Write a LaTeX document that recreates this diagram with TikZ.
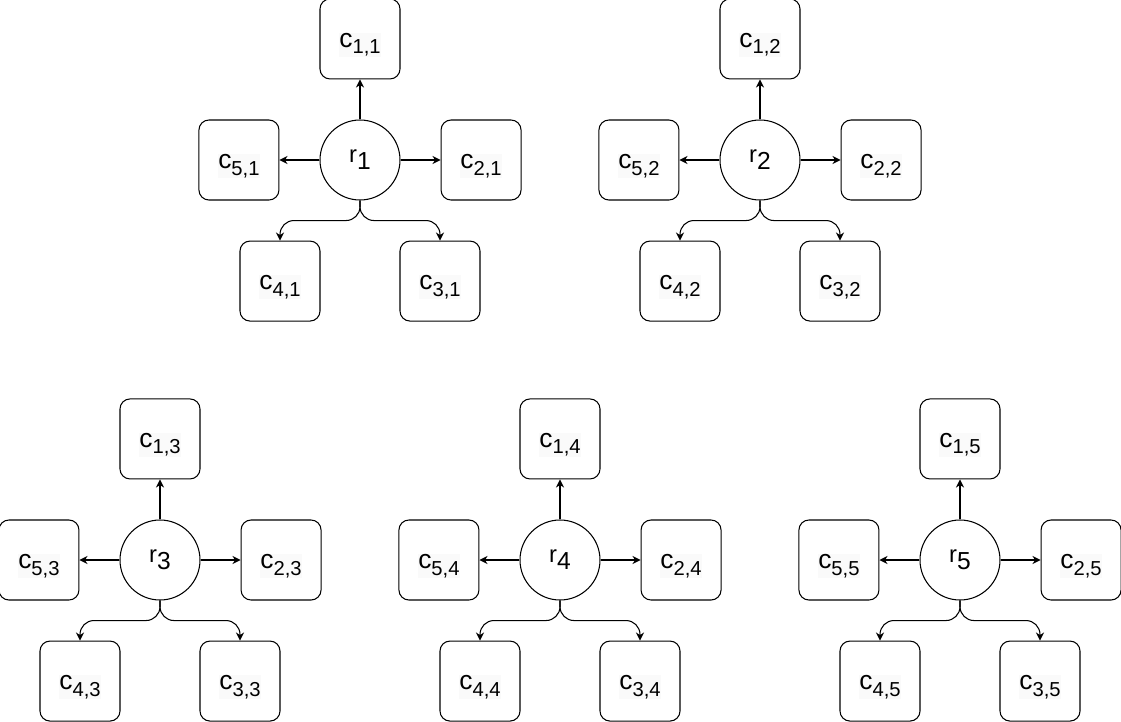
\documentclass[tikz,border=0pt]{standalone}
\usepackage{fontspec}
\setmainfont{Liberation Sans}
\usetikzlibrary{arrows.meta,positioning}
\definecolor{txtbg}{HTML}{FAFAFA}

% box label c_{i,k} and circle label r_k
\newcommand{\clab}[2]{\setlength{\fboxsep}{0pt}\colorbox{txtbg}{\strut{\fontsize{15}{17}\selectfont c}\raisebox{-3.8pt}{\fontsize{11.5}{13}\selectfont #1,#2}}}
\newcommand{\rlab}[1]{{\fontsize{13.5}{15}\selectfont r\raisebox{-4pt}{\fontsize{14}{16}\selectfont #1}}}

\begin{document}
\begin{tikzpicture}[
  >={Stealth[length=4.6pt,width=4.6pt]},
  cbox/.style={draw, rounded corners=0.2cm, minimum width=1.6cm, minimum height=1.6cm,
               inner sep=0pt, line width=0.6pt, text height=12.5pt, text depth=3pt},
  rnode/.style={draw, circle, minimum size=1.6cm, inner sep=0pt, line width=0.6pt},
  arr/.style={->, line width=0.6pt},
  curvarr/.style={->, line width=0.6pt, rounded corners=0.28cm},
]
\useasboundingbox (0,0) rectangle (22.42,-14.42);

\foreach \k/\cx/\cy in {1/7.2/-3.2, 2/15.2/-3.2, 3/3.2/-11.2, 4/11.2/-11.2, 5/19.2/-11.2}{
  \node[rnode] (r\k) at (\cx,\cy) {\rlab{\k}};
  \node[cbox, above=0.8cm of r\k] (c1\k) {\clab{1}{\k}};
  \node[cbox, right=0.8cm of r\k] (c2\k) {\clab{2}{\k}};
  \node[cbox, below=0.8cm of r\k, xshift=1.6cm]  (c3\k) {\clab{3}{\k}};
  \node[cbox, below=0.8cm of r\k, xshift=-1.6cm] (c4\k) {\clab{4}{\k}};
  \node[cbox, left=0.8cm of r\k]  (c5\k) {\clab{5}{\k}};

  \draw[arr] (r\k) -- (c1\k);
  \draw[arr] (r\k) -- (c2\k);
  \draw[arr] (r\k) -- (c5\k);
  \draw[curvarr] (r\k.south) -- ++(0,-0.4) -| (c3\k.north);
  \draw[curvarr] (r\k.south) -- ++(0,-0.4) -| (c4\k.north);
}

\end{tikzpicture}
\end{document}
